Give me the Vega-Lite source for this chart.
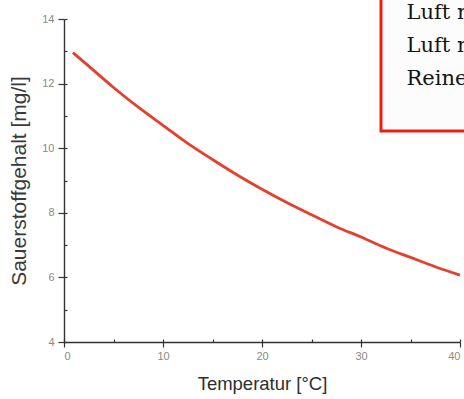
{
  "$schema": "https://vega.github.io/schema/vega-lite/v6.json",
  "autosize": {"type": "none"},
  "width": 396,
  "height": 323,
  "padding": {"left": 64, "top": 19, "right": 4, "bottom": 57},
  "background": "white",
  "config": {"view": {"stroke": null}, "axis": {"grid": false}},
  "data": {"values": [
    {"T": 0.9, "O2": 12.96},
    {"T": 2.5, "O2": 12.54},
    {"T": 5, "O2": 11.88},
    {"T": 7.5, "O2": 11.27},
    {"T": 10, "O2": 10.71},
    {"T": 12.5, "O2": 10.15},
    {"T": 15, "O2": 9.65},
    {"T": 17.5, "O2": 9.17},
    {"T": 20, "O2": 8.73},
    {"T": 22.5, "O2": 8.32},
    {"T": 25, "O2": 7.94},
    {"T": 27.5, "O2": 7.57},
    {"T": 30, "O2": 7.25},
    {"T": 32.5, "O2": 6.91},
    {"T": 35, "O2": 6.62},
    {"T": 37.5, "O2": 6.33},
    {"T": 40, "O2": 6.07}
  ]},
  "layer": [
    {
      "mark": {"type": "line", "strokeOpacity": 0},
      "encoding": {
        "x": {"field": "T", "type": "quantitative",
          "scale": {"domain": [0, 40], "nice": false, "zero": false},
          "axis": {"orient": "bottom", "values": [0, 5, 10, 15, 20, 25, 30, 35, 40], "tickSize": -3, "labels": false, "domain": false, "title": null, "tickColor": "#333", "tickWidth": 1.2}},
        "y": {"field": "O2", "type": "quantitative",
          "scale": {"domain": [4, 14], "nice": false, "zero": false},
          "axis": {"orient": "left", "values": [4, 5, 6, 7, 8, 9, 10, 11, 12, 13, 14], "tickSize": -3, "labels": false, "domain": false, "title": null, "tickColor": "#333", "tickWidth": 1.2}}
      }
    },
    {
      "mark": {"type": "line", "color": "#e6402c", "strokeWidth": 2.8, "interpolate": "monotone"},
      "encoding": {
        "x": {"field": "T", "type": "quantitative",
          "axis": {"orient": "bottom", "values": [0, 10, 20, 30, 40], "tickSize": 5, "tickColor": "#333", "tickWidth": 1.2,
            "domainColor": "#333", "domainWidth": 1.4,
            "labelColor": "#8a8a80", "labelFont": "Liberation Sans", "labelFontSize": 11, "labelPadding": 3,
            "title": "Temperatur [°C]", "titleFont": "Liberation Sans", "titleFontSize": 18.5, "titleFontWeight": "normal", "titleColor": "#2e2e2e", "titlePadding": 13}},
        "y": {"field": "O2", "type": "quantitative",
          "axis": {"orient": "left", "values": [4, 6, 8, 10, 12, 14], "tickSize": 6, "tickColor": "#333", "tickWidth": 1.2,
            "domainColor": "#333", "domainWidth": 1.4,
            "labelColor": "#8a8a80", "labelFont": "Liberation Sans", "labelFontSize": 11, "labelPadding": 4,
            "title": "Sauerstoffgehalt [mg/l]", "titleFont": "Liberation Sans", "titleFontSize": 21, "titleFontWeight": "normal", "titleColor": "#3a3a3a", "titlePadding": 12}}
      }
    },
    {
      "data": {"values": [{}]},
      "mark": {"type": "rect", "fill": "#fcfcfc", "stroke": "#e8200c", "strokeWidth": 3, "clip": false},
      "encoding": {
        "x": {"datum": 32.02, "type": "quantitative", "axis": null},
        "x2": {"datum": 46},
        "y": {"datum": 15.5, "type": "quantitative", "axis": null},
        "y2": {"datum": 10.53}
      }
    },
    {
      "data": {"values": [{}]},
      "mark": {"type": "text", "text": ["Luft m", "Luft m", "Reine"], "font": "DejaVu Serif", "fontSize": 21, "lineHeight": 33, "align": "left", "baseline": "alphabetic", "color": "#141414", "clip": false},
      "encoding": {
        "x": {"datum": 34.6, "type": "quantitative", "axis": null},
        "y": {"datum": 14.0, "type": "quantitative", "axis": null}
      }
    }
  ],
  "resolve": {"axis": {"x": "independent", "y": "independent"}}
}
